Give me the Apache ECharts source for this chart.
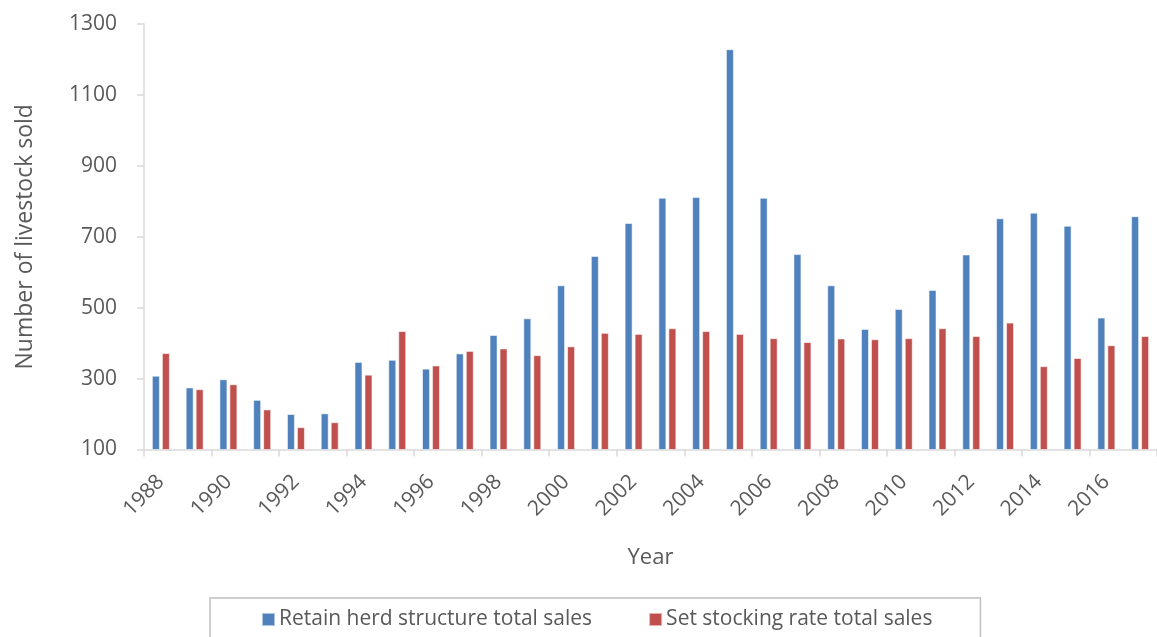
<!DOCTYPE html>
<html>
<head>
<meta charset="utf-8">
<title>Livestock sales by year</title>
<script src="https://cdn.jsdelivr.net/npm/echarts@6/dist/echarts.min.js"></script>
<style>
  html, body { margin: 0; padding: 0; background: #ffffff; }
  #chart { width: 1157px; height: 637px; }
</style>
</head>
<body>
<div id="chart"></div>
<script>
// Years on the category axis
const years = ['1988', '1989', '1990', '1991', '1992', '1993', '1994', '1995', '1996', '1997',
  '1998', '1999', '2000', '2001', '2002', '2003', '2004', '2005', '2006', '2007',
  '2008', '2009', '2010', '2011', '2012', '2013', '2014', '2015', '2016', '2017'];

// Total livestock sold under each strategy
const retainHerdSales = [308, 275, 298, 240, 200, 202, 347, 353, 328, 371,
  423, 470, 563, 646, 739, 810, 812, 1229, 810, 651,
  563, 440, 496, 550, 650, 752, 768, 731, 472, 758];
const stockingRateSales = [372, 270, 284, 213, 163, 177, 311, 434, 337, 378,
  385, 366, 391, 429, 426, 442, 434, 426, 414, 403,
  413, 411, 414, 442, 420, 458, 335, 358, 394, 420];

const seriesNames = ['Retain herd structure total sales', 'Set stocking rate total sales'];

// Value axis range
const yMin = 100;
const yMax = 1300;
const yStep = 200;

const FONT = '"Open Sans", "Noto Sans", sans-serif';
const TEXT = '#595959';
const AXIS = '#d9d9d9';

const chart = echarts.init(document.getElementById('chart'), null, { renderer: 'canvas' });

chart.setOption({
  backgroundColor: '#ffffff',
  animation: false,
  textStyle: { fontFamily: FONT, color: TEXT },
  grid: { left: 144, top: 24, right: -9, bottom: 187.5, containLabel: false },
  legend: {
    left: 210,
    top: 598,
    padding: [11, 48, 14, 51],
    itemWidth: 13,
    itemHeight: 13,
    itemGap: 56,
    icon: 'rect',
    borderColor: '#bfbfbf',
    borderWidth: 1.5,
    textStyle: { fontFamily: FONT, fontSize: 21, color: TEXT, padding: [0, 0, 0, -1] },
    data: seriesNames
  },
  xAxis: {
    type: 'category',
    data: years,
    name: 'Year',
    nameLocation: 'middle',
    nameGap: 97,
    nameTextStyle: { fontFamily: FONT, fontSize: 22, color: TEXT },
    axisLine: { lineStyle: { color: AXIS, width: 1.5 } },
    axisTick: { show: true, length: 7, lineStyle: { color: AXIS, width: 1.5 } },
    axisLabel: {
      interval: 1,
      rotate: 45,
      margin: 29,
      fontFamily: FONT,
      fontSize: 21,
      color: TEXT
    },
    splitLine: { show: false }
  },
  yAxis: {
    type: 'value',
    min: yMin,
    max: yMax,
    interval: yStep,
    name: 'Number of livestock sold',
    nameLocation: 'middle',
    nameGap: 107,
    nameTextStyle: { fontFamily: FONT, fontSize: 23, color: TEXT },
    axisLine: { show: true, lineStyle: { color: AXIS, width: 1.5 } },
    axisTick: { show: true, length: 7, lineStyle: { color: AXIS, width: 1.5 } },
    axisLabel: {
      margin: 27,
      fontFamily: FONT,
      fontSize: 21,
      color: TEXT,
      formatter: (v) => String(v)
    },
    splitLine: { show: false }
  },
  series: [
    {
      name: seriesNames[0],
      type: 'bar',
      data: retainHerdSales,
      barWidth: 8,
      barGap: '25%',
      itemStyle: { color: '#4f81bd', borderColor: 'rgba(255,255,255,0.55)', borderWidth: 1 }
    },
    {
      name: seriesNames[1],
      type: 'bar',
      data: stockingRateSales,
      barWidth: 8,
      barGap: '25%',
      itemStyle: { color: '#c0504d', borderColor: 'rgba(255,255,255,0.55)', borderWidth: 1 }
    }
  ]
});
</script>
</body>
</html>
